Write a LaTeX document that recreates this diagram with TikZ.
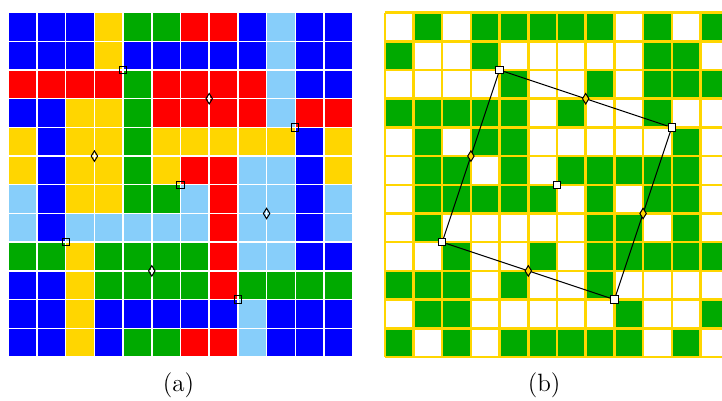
\documentclass[tikz,border=0pt]{standalone}
\usetikzlibrary{shapes.geometric}
\definecolor{CellB}{RGB}{0,0,255}
\definecolor{CellG}{RGB}{0,170,0}
\definecolor{CellY}{RGB}{255,214,0}
\definecolor{CellR}{RGB}{255,0,0}
\definecolor{CellS}{RGB}{135,206,250}
\definecolor{CellW}{RGB}{255,255,255}
\newcommand{\Cell}{0.5cm}
\newcommand{\Shift}{13.12}
\tikzset{SquareMark/.style={
    rectangle,
    inner sep=0pt,
    minimum size=3.6pt,
    draw=black,
    line width=0.5pt
    }
}
\tikzset{DiamondMark/.style={
    diamond,
    inner sep=0pt,
    minimum width=3.4pt,
    minimum height=5.4pt,
    draw=black,
    line width=0.5pt
    }
}
\tikzset{WhiteLines/.style={
    draw=white,
    line width=0.7pt,
    step=1
    }
}
\tikzset{YellowLines/.style={
    draw=CellY,
    line width=1.25pt,
    step=1
    }
}
\tikzset{Link/.style={
    draw=black,
    line width=0.5pt
    }
}
\tikzset{Caption/.style={
    anchor=base,
    font=\fontsize{12.4}{15}\selectfont
    }
}

\begin{document}
\begin{tikzpicture}[x=\Cell, y=\Cell]
    \useasboundingbox (-0.29,-1.5) rectangle (24.87,12.44);

    % (a) coloured partition
    \foreach \row [count=\r from 0] in {
        {B,B,B,Y,G,G,R,R,B,S,B,B},
        {B,B,B,Y,B,B,B,B,B,S,B,B},
        {R,R,R,R,G,R,R,R,R,S,B,B},
        {B,B,Y,Y,G,R,R,R,R,S,R,R},
        {Y,B,Y,Y,G,Y,Y,Y,Y,Y,B,Y},
        {Y,B,Y,Y,G,Y,R,R,S,S,B,Y},
        {S,B,Y,Y,G,G,S,R,S,S,B,S},
        {S,B,S,S,S,S,S,R,S,S,B,S},
        {G,G,Y,G,G,G,G,R,S,S,B,B},
        {B,B,Y,G,G,G,G,R,G,G,G,G},
        {B,B,Y,B,B,B,B,B,S,B,B,B},
        {B,B,Y,B,G,G,R,R,S,B,B,B}}
        \foreach \c [count=\k from 0] in \row
            \fill[Cell\c] (\k,11-\r) rectangle ++(1,1);
    \draw[WhiteLines] (0,0) grid (12,12);

    \node (a1) [SquareMark] at (4,10) {};
    \node (a2) [SquareMark] at (10,8) {};
    \node (a3) [SquareMark] at (8,2) {};
    \node (a4) [SquareMark] at (2,4) {};
    \node (a0) [SquareMark] at (6,6) {};
    \node (a12) [DiamondMark] at (7,9) {};
    \node (a23) [DiamondMark] at (9,5) {};
    \node (a34) [DiamondMark] at (5,3) {};
    \node (a41) [DiamondMark] at (3,7) {};

    % (b) green / white cells
    \begin{scope}[shift={(\Shift,0)}]
    \foreach \row [count=\r from 0] in {
        {W,G,W,G,G,G,G,G,W,G,W,G},
        {G,W,W,G,W,W,W,W,W,G,G,W},
        {W,W,W,W,G,W,W,G,W,G,G,G},
        {G,G,G,G,G,W,G,W,W,G,W,W},
        {W,G,W,G,G,W,W,W,W,W,G,W},
        {W,G,G,W,G,W,G,G,G,G,G,W},
        {W,G,G,G,G,G,W,G,W,G,G,W},
        {W,G,W,W,W,W,W,G,G,W,G,W},
        {W,W,G,W,W,G,W,G,G,G,G,G},
        {G,G,G,W,G,W,W,G,W,W,W,W},
        {W,G,G,W,W,W,W,W,G,W,W,G},
        {G,W,G,W,G,G,G,G,G,W,G,W}}
        \foreach \c [count=\k from 0] in \row
            \fill[Cell\c] (\k,11-\r) rectangle ++(1,1);
    \draw[YellowLines] (0,0) grid (12,12);

    \node (b1) [SquareMark, fill=white] at (4,10) {};
    \node (b2) [SquareMark, fill=white] at (10,8) {};
    \node (b3) [SquareMark, fill=white] at (8,2) {};
    \node (b4) [SquareMark, fill=white] at (2,4) {};
    \node (b0) [SquareMark, fill=white] at (6,6) {};
        \draw[Link] (b1) -- (b2);
        \draw[Link] (b2) -- (b3);
        \draw[Link] (b3) -- (b4);
        \draw[Link] (b4) -- (b1);
    \node (b12) [DiamondMark, fill=CellY] at (7,9) {};
    \node (b23) [DiamondMark, fill=CellY] at (9,5) {};
    \node (b34) [DiamondMark, fill=CellY] at (5,3) {};
    \node (b41) [DiamondMark, fill=CellY] at (3,7) {};
    \end{scope}

    \node (capa) [Caption] at (5.93,-1.22) {(a)};
    \node (capb) [Caption] at (18.67,-1.22) {(b)};
\end{tikzpicture}
\end{document}
